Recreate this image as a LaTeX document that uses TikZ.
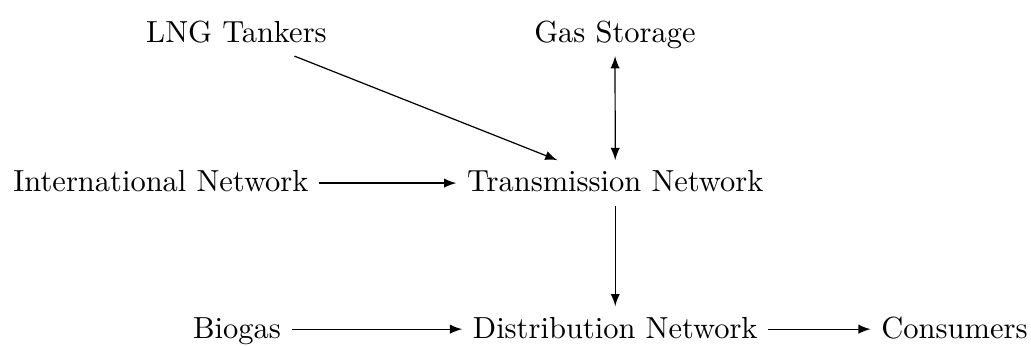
\documentclass[tikz,border=0pt]{standalone}
\usepackage{tikz}
\usetikzlibrary{arrows, positioning, arrows.meta}

\begin{document}
\begin{tikzpicture}[
    % GLOBAL CFG
    >=latex,
    % Styles
    place/.style={% For every part of the gas system
        anchor=base,
        text height=1.6ex,
        text depth=.25ex,
        },
    flow/.style={% Gas flows
        ->,
        },
    ]

    % Fix the margins
    \useasboundingbox (0,0) rectangle (11.881,-3.976);

    % Draw sources named as basis
    \node [place] (lng) at (2.725,-0.484) {LNG Tankers};
    \node [place] (storage) at (7.087,-0.484) {Gas Storage};
    \node [place] (intl) at (1.855,-2.212) {International Network};
    \node [place] (biogas) at (2.731,-3.895) {Biogas};

    % Draw networks
    \node [place] (trans) at (7.09,-2.212) {Transmission Network};
    \node [place] (dist) at (7.09,-3.895) {Distribution Network};

    % Draw end users
    \node [place] (cons) at (10.999,-3.895) {Consumers};

% Start connecting all.
    \draw [flow] (lng) -- (trans);
    \draw [<->] (storage) -- (trans);
    \draw [flow] (intl) -- (trans);
    \draw [flow] (trans) -- (dist);
    \draw [flow] (biogas) -- (dist);
    \draw [flow] (dist) -- (cons);

\end{tikzpicture}
\end{document}
